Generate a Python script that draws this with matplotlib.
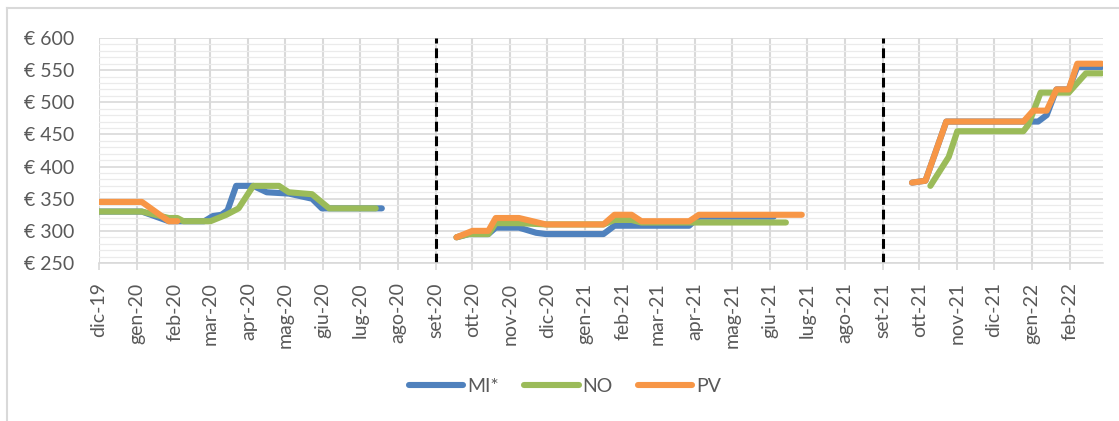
import numpy as np
import pandas as pd
import matplotlib
matplotlib.use("Agg")
import matplotlib.pyplot as plt
import matplotlib.dates as mdates
from matplotlib.lines import Line2D

plt.rcParams['font.family'] = ['Lato', 'DejaVu Sans']

NAN = np.nan

# ---- data (date, price) ; NaN rows break the line between seasons ----
mi_dates = ["2019-12-01", "2020-01-05", "2020-01-27", "2020-02-25", "2020-03-03", "2020-03-10",
            "2020-03-15", "2020-03-22", "2020-04-05", "2020-04-16", "2020-05-04", "2020-05-23",
            "2020-05-31", "2020-07-19",
            "2020-08-15",
            "2020-09-18", "2020-09-28", "2020-10-14", "2020-10-20", "2020-11-08", "2020-11-22",
            "2020-11-30", "2021-01-16", "2021-01-25", "2021-03-27", "2021-04-04", "2021-06-04",
            "2021-08-15",
            "2021-09-25", "2021-10-06", "2021-10-23", "2022-01-06", "2022-01-13", "2022-01-21",
            "2022-01-31", "2022-02-07", "2022-02-27"]
mi_values = [330, 330, 315, 315, 323, 325,
             332, 370, 370, 360, 358, 350,
             335, 335,
             NAN,
             290, 295, 295, 305, 305, 297,
             295, 295, 308, 308, 322, 322,
             NAN,
             375, 378, 470, 470, 480, 520,
             520, 555, 555]

no_dates = ["2019-12-01", "2020-01-05", "2020-01-27", "2020-02-03", "2020-02-08", "2020-03-01",
            "2020-03-14", "2020-03-24", "2020-04-05", "2020-04-26", "2020-05-04", "2020-05-23",
            "2020-06-06", "2020-07-14",
            "2020-08-15",
            "2020-09-18", "2020-09-28", "2020-10-14", "2020-10-20", "2020-11-08", "2020-11-30",
            "2021-01-16", "2021-01-25", "2021-02-08", "2021-02-16", "2021-06-14",
            "2021-08-15",
            "2021-10-10", "2021-10-25", "2021-11-01", "2021-12-25", "2021-12-29", "2022-01-08",
            "2022-01-31", "2022-02-14", "2022-02-27"]
no_values = [330, 330, 320, 320, 315, 315,
             325, 335, 370, 370, 360, 357,
             335, 335,
             NAN,
             290, 295, 295, 312, 312, 310,
             310, 317, 317, 313, 313,
             NAN,
             370, 415, 455, 455, 465, 515,
             515, 545, 545]

pv_dates = ["2019-12-01", "2020-01-05", "2020-01-27", "2020-02-03",
            "2020-08-15",
            "2020-09-18", "2020-10-01", "2020-10-14", "2020-10-20", "2020-11-08", "2020-11-30",
            "2021-01-16", "2021-01-25", "2021-02-08", "2021-02-16", "2021-03-27", "2021-04-04",
            "2021-06-27",
            "2021-08-15",
            "2021-09-25", "2021-10-06", "2021-10-23", "2021-12-25", "2022-01-02", "2022-01-13",
            "2022-01-21", "2022-01-31", "2022-02-07", "2022-02-27"]
pv_values = [345, 345, 315, 315,
             NAN,
             290, 300, 300, 320, 320, 310,
             310, 325, 325, 315, 315, 325,
             325,
             NAN,
             375, 378, 470, 470, 487, 487,
             520, 520, 560, 560]

series_names = ["MI*", "NO", "PV"]
series_colors = ["#4F81BD", "#9BBB59", "#F79646"]

separator_dates = ["2020-09-01", "2021-09-01"]

tick_dates = pd.date_range("2019-12-01", "2022-02-01", freq="MS")
tick_labels = ["dic-19", "gen-20", "feb-20", "mar-20", "apr-20", "mag-20", "giu-20", "lug-20",
               "ago-20", "set-20", "ott-20", "nov-20", "dic-20", "gen-21", "feb-21", "mar-21",
               "apr-21", "mag-21", "giu-21", "lug-21", "ago-21", "set-21", "ott-21", "nov-21",
               "dic-21", "gen-22", "feb-22"]

y_ticks = [250, 300, 350, 400, 450, 500, 550, 600]

# ---- figure ----
W, H = 1119, 421
fig = plt.figure(figsize=(W / 100, H / 100), dpi=100)
ax = fig.add_axes([99 / W, 1 - 263 / H, (1103 - 99) / W, (263 - 38) / H])

TXT = "#595959"
GRID = "#D9D9D9"

ax.set_ylim(250, 600)
ax.set_xlim(pd.Timestamp("2019-12-01"), pd.Timestamp("2022-02-28"))

ax.set_yticks(y_ticks)
ax.set_yticklabels([f"€ {v}" for v in y_ticks])
ax.set_yticks(np.arange(250, 601, 10), minor=True)
ax.set_xticks(tick_dates)
ax.set_xticklabels(tick_labels, rotation=90)

ax.grid(axis="y", which="major", color=GRID, lw=1.2, zorder=0)
ax.grid(axis="y", which="minor", color="#EBEBEB", lw=0.9, zorder=0)
ax.grid(axis="x", which="major", color=GRID, lw=1.5, zorder=0)

for s in ["top", "right", "left"]:
    ax.spines[s].set_visible(False)
ax.spines["bottom"].set_color(GRID)
ax.spines["bottom"].set_linewidth(1.2)

ax.tick_params(axis="y", which="both", length=0, pad=18, labelsize=14, labelcolor=TXT)
ax.tick_params(axis="x", which="major", length=5, width=1.2, color=GRID, pad=9,
               labelsize=14, labelcolor=TXT)
ax.tick_params(axis="x", which="minor", length=0)

for d in separator_dates:
    ax.axvline(pd.Timestamp(d), color="black", lw=2.2, dashes=(3.2, 1.6), zorder=2)

data = [(mi_dates, mi_values), (no_dates, no_values), (pv_dates, pv_values)]
handles = []
for (dts, vals), name, col in zip(data, series_names, series_colors):
    ln, = ax.plot(pd.to_datetime(dts), vals, color=col, lw=4.4, label=name,
                  solid_capstyle="round", solid_joinstyle="round", zorder=3)
    handles.append(ln)

leg = fig.legend(handles=handles, labels=series_names, loc="center",
                 bbox_to_anchor=(565 / W, 1 - 386 / H), ncol=3, frameon=False,
                 fontsize=14, handlelength=2.8, handletextpad=0.2, columnspacing=1.3,
                 labelcolor=TXT)
for h in leg.get_lines():
    h.set_linewidth(4.4)

# outer chart frame
fig.add_artist(Line2D([7 / W, 7 / W], [0, 1 - 8 / H], transform=fig.transFigure,
                      color=GRID, lw=1.5))
fig.add_artist(Line2D([7 / W, 1], [1 - 8 / H, 1 - 8 / H], transform=fig.transFigure,
                      color=GRID, lw=1.5))

fig.savefig("out.png", dpi=100)
